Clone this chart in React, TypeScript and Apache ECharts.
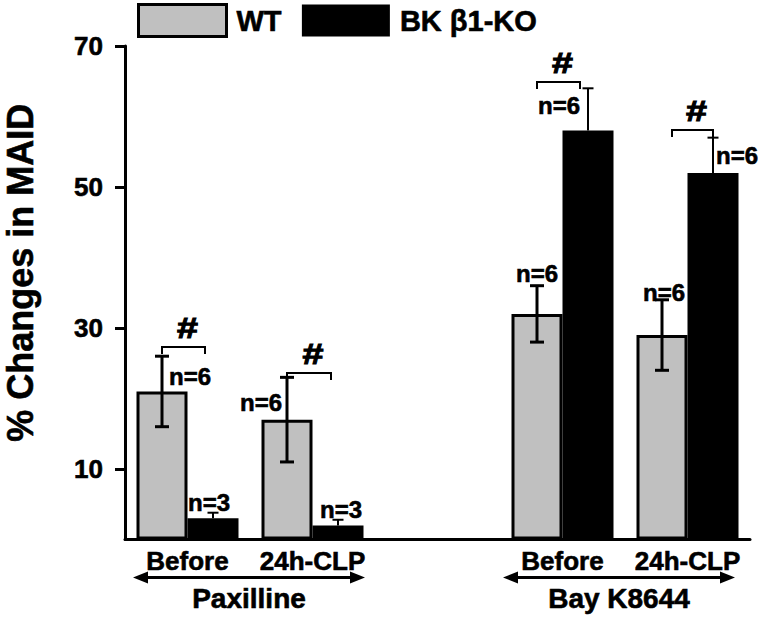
import React, { useEffect, useRef } from "react";
import * as echarts from "echarts";

// ---------- data ----------
const categories = ["Before", "24h-CLP", "", "Before", "24h-CLP"];
const seriesNames = ["WT", "BK β1-KO"];
const wtMeans = [21, 17, null, 32, 29];
const wtErrors = [5, 6, null, 4, 5];
const koMeans = [3, 2, null, 58, 52];
const koErrors = [0.8, 0.8, null, 6, 5];
const wtCounts = ["n=6", "n=6", null, "n=6", "n=6"];
const koCounts = ["n=3", "n=3", null, "n=6", "n=6"];
const bracketLevels = [27.3, 23.6, null, 64.9, 58.1];
const significance = ["#", "#", null, "#", "#"];
const treatmentNames = ["Paxilline", "Bay K8644"];
const treatmentSpans = [
  [0, 1],
  [3, 4],
];
const yTicks = [10, 30, 50, 70];
const yTitle = "% Changes in MAID";

// ---------- layout / style ----------
const FONT = '"Liberation Sans", Arial, Helvetica, sans-serif';
const HEAVY = { textBorderColor: "#000", textBorderWidth: 0.6 };
const BAR_W = 51;
const HALF = BAR_W / 2;
const wtLabelLayout = [
  { y: 23.05, dx: 28 },
  { y: 19.4, dx: -26 },
  null,
  { y: 37.8, dx: 0 },
  { y: 35.1, dx: 2 },
];
const koLabelLayout = [
  { y: 5.3, dx: -4 },
  { y: 4.3, dx: 3 },
  null,
  { y: 61.5, dx: -29 },
  { y: 54.5, dx: 24 },
];
const bracketLayout = [
  { l: 0, r: -8 },
  { l: 0, r: -7 },
  null,
  { l: 0, r: -8 },
  { l: 10, r: 0 },
];
const spanLayout = [
  [-0.436, 0.42],
  [-0.476, 0.38],
];

function errorSeries(
  means: (number | null)[],
  errs: (number | null)[],
  side: number,
  both: boolean,
  lw: number,
  cap: number
) {
  const data = means
    .map((m, i) => (m == null ? null : [i, m, errs[i] as number]))
    .filter((d) => d != null);
  return {
    type: "custom",
    z: 5,
    silent: true,
    data,
    encode: { x: 0, y: 1 },
    renderItem: (_p: any, api: any) => {
      const i = api.value(0);
      const m = api.value(1);
      const e = api.value(2);
      const top = api.coord([i, m + e]);
      const bot = api.coord([i, both ? m - e : m]);
      const x = top[0] + side * HALF;
      const st = { stroke: "#000", lineWidth: lw };
      const children: any[] = [
        { type: "line", shape: { x1: x, y1: top[1], x2: x, y2: bot[1] }, style: st },
        { type: "line", shape: { x1: x - cap / 2, y1: top[1], x2: x + cap / 2, y2: top[1] }, style: st },
      ];
      if (both) {
        children.push({
          type: "line",
          shape: { x1: x - cap / 2, y1: bot[1], x2: x + cap / 2, y2: bot[1] },
          style: st,
        });
      }
      return { type: "group", children };
    },
  };
}

function countSeries(counts: (string | null)[], layout: any[], side: number) {
  const data = counts
    .map((c, i) => (c == null ? null : [i, layout[i].y]))
    .filter((d) => d != null);
  return {
    type: "custom",
    z: 6,
    silent: true,
    data,
    encode: { x: 0, y: 1 },
    renderItem: (_p: any, api: any) => {
      const i = api.value(0);
      const p = api.coord([i, api.value(1)]);
      return {
        type: "text",
        x: p[0] + side * HALF + layout[i].dx,
        y: p[1],
        style: {
          text: counts[i],
          fill: "#000",
          font: `bold 24px ${FONT}`,
          align: "center",
          verticalAlign: "middle",
          stroke: "#000",
          lineWidth: 0.6,
        },
      };
    },
  };
}

const bracketSeries = {
  type: "custom",
  z: 6,
  silent: true,
  data: bracketLevels
    .map((b, i) => (b == null ? null : [i, b]))
    .filter((d) => d != null),
  encode: { x: 0, y: 1 },
  renderItem: (_p: any, api: any) => {
    const i = api.value(0);
    const p = api.coord([i, api.value(1)]);
    const lay = bracketLayout[i]!;
    const xl = p[0] - HALF + lay.l;
    const xr = p[0] + HALF + lay.r;
    const y = p[1];
    const st = { stroke: "#000", lineWidth: 2, fill: "none" };
    return {
      type: "group",
      children: [
        {
          type: "polyline",
          shape: { points: [[xl, y + 7], [xl, y], [xr, y], [xr, y + 7]] },
          style: st,
        },
        {
          type: "text",
          x: (xl + xr) / 2 + 4,
          y: y - 19,
          scaleX: 1.3,
          style: {
            text: significance[i],
            fill: "#000",
            font: `bold 29px ${FONT}`,
            align: "center",
            verticalAlign: "middle",
            stroke: "#000",
            lineWidth: 1,
          },
        },
      ],
    };
  },
};

const treatmentSeries = {
  type: "custom",
  z: 6,
  silent: true,
  data: treatmentSpans.map((s, k) => [s[0], 0, s[1], k]),
  encode: { x: 0, y: 1 },
  renderItem: (_p: any, api: any) => {
    const from = api.value(0);
    const to = api.value(2);
    const k = api.value(3);
    const bw = api.size([1, 0])[0];
    const a = api.coord([from, 0]);
    const b = api.coord([to, 0]);
    const x1 = a[0] + spanLayout[k][0] * bw;
    const x2 = b[0] + spanLayout[k][1] * bw;
    const y = a[1] + 38;
    const ah = 15;
    const hw = 6;
    return {
      type: "group",
      children: [
        {
          type: "line",
          shape: { x1: x1 + ah - 2, y1: y, x2: x2 - ah + 2, y2: y },
          style: { stroke: "#000", lineWidth: 3 },
        },
        {
          type: "polygon",
          shape: { points: [[x1, y], [x1 + ah, y - hw], [x1 + ah, y + hw]] },
          style: { fill: "#000" },
        },
        {
          type: "polygon",
          shape: { points: [[x2, y], [x2 - ah, y - hw], [x2 - ah, y + hw]] },
          style: { fill: "#000" },
        },
        {
          type: "text",
          x: (x1 + x2) / 2,
          y: y + 21,
          style: {
            text: treatmentNames[k],
            fill: "#000",
            font: `bold 28px ${FONT}`,
            align: "center",
            verticalAlign: "middle",
            stroke: "#000",
            lineWidth: 0.6,
          },
        },
      ],
    };
  },
};

export default function App() {
  const ref = useRef<HTMLDivElement>(null);
  useEffect(() => {
    if (!ref.current) return;
    const chart = echarts.init(ref.current, undefined, { renderer: "svg" });
    chart.setOption({
      animation: false,
      backgroundColor: "#fff",
      grid: {
        left: 125,
        right: 10,
        top: 46,
        bottom: 77.5,
        containLabel: false,
        outerBoundsMode: "none",
      },
      legend: {
        left: 132,
        top: -2,
        itemWidth: 88,
        itemHeight: 32,
        itemGap: 20,
        icon: "rect",
        selectedMode: false,
        textStyle: {
          fontFamily: FONT,
          fontWeight: "bold",
          fontSize: 29,
          color: "#000",
          padding: [0, 0, 0, 5],
          ...HEAVY,
        },
        data: [
          {
            name: seriesNames[0],
            itemStyle: { color: "#c0c0c0", borderColor: "#000", borderWidth: 3 },
          },
          { name: seriesNames[1], itemStyle: { color: "#000" } },
        ],
      },
      xAxis: {
        type: "category",
        data: categories,
        axisLine: { show: true, lineStyle: { color: "#000", width: 3 } },
        axisTick: { show: false },
        axisLabel: {
          interval: 0,
          margin: 8,
          fontFamily: FONT,
          fontWeight: "bold",
          fontSize: 26,
          color: "#000",
          ...HEAVY,
        },
        splitLine: { show: false },
      },
      yAxis: {
        type: "value",
        min: 0,
        max: 70,
        name: yTitle,
        nameLocation: "middle",
        nameGap: 87,
        nameTextStyle: {
          fontFamily: FONT,
          fontWeight: "bold",
          fontSize: 36,
          color: "#000",
          padding: [0, 0, 0, 40],
          ...HEAVY,
        },
        axisLine: { show: true, lineStyle: { color: "#000", width: 3 } },
        axisTick: {
          show: true,
          length: 10,
          customValues: yTicks,
          lineStyle: { color: "#000", width: 3 },
        },
        axisLabel: {
          customValues: yTicks,
          margin: 22,
          fontFamily: FONT,
          fontWeight: "bold",
          fontSize: 26,
          color: "#000",
          ...HEAVY,
        },
        splitLine: { show: false },
      },
      series: [
        {
          name: seriesNames[0],
          type: "bar",
          data: wtMeans,
          barWidth: BAR_W,
          barGap: "0%",
          itemStyle: { color: "#c0c0c0", borderColor: "#000", borderWidth: 3 },
        },
        {
          name: seriesNames[1],
          type: "bar",
          data: koMeans,
          barWidth: BAR_W,
          barGap: "0%",
          itemStyle: { color: "#000" },
        },
        errorSeries(wtMeans, wtErrors, -1, true, 3, 14),
        errorSeries(koMeans, koErrors, 1, false, 2, 11),
        countSeries(wtCounts, wtLabelLayout, -1),
        countSeries(koCounts, koLabelLayout, 1),
        bracketSeries,
        treatmentSeries,
      ],
    });
    return () => chart.dispose();
  }, []);
  return (
    <div
      ref={ref}
      style={{ position: "fixed", left: 0, top: 0, width: 760, height: 617, background: "#fff" }}
    />
  );
}
